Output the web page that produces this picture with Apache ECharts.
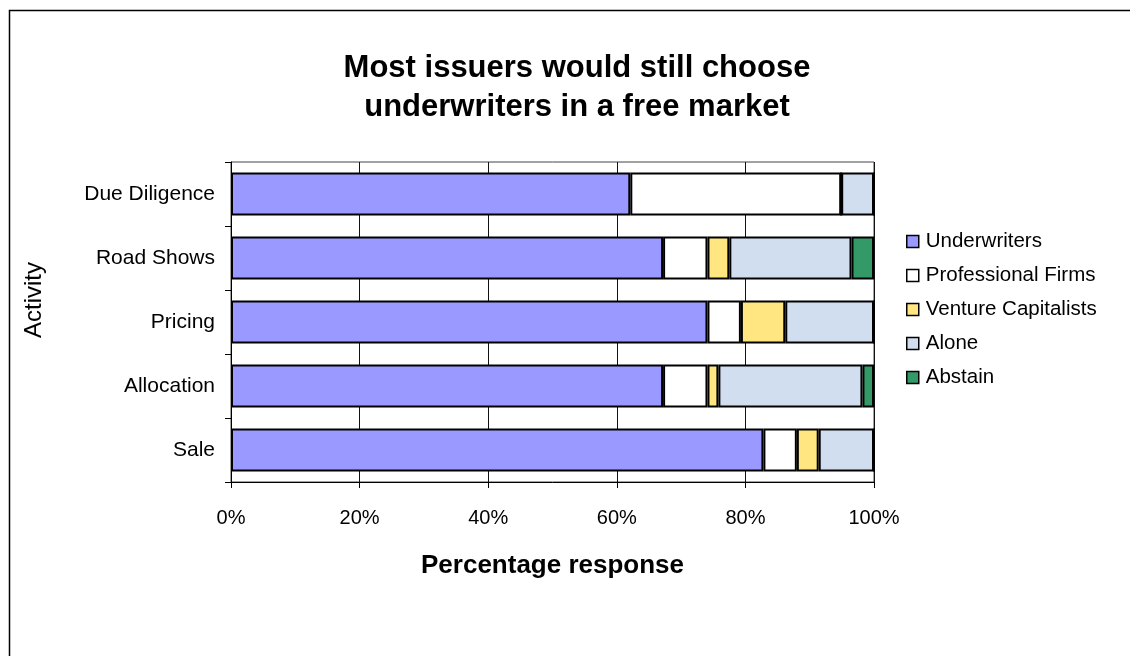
<!DOCTYPE html>
<html>
<head>
<meta charset="utf-8">
<script src="https://cdn.jsdelivr.net/npm/echarts@6/dist/echarts.min.js"></script>
<style>html,body{margin:0;padding:0;background:#fff}#c{width:1130px;height:656px}</style>
</head>
<body>
<div id="c"></div>
<script>
const categories = ['Sale', 'Allocation', 'Pricing', 'Road Shows', 'Due Diligence'];
const underwriters = [82.8, 67.2, 74.1, 67.2, 62.1];
const professionalFirms = [5.2, 6.9, 5.2, 6.9, 32.8];
const ventureCapitalists = [3.4, 1.7, 6.9, 3.4, 0];
const alone = [8.6, 22.4, 13.8, 19.0, 5.1];
const abstain = [0, 1.8, 0, 3.5, 0];
const xTicks = [0, 20, 40, 60, 80, 100];

const font = '"Liberation Sans", Arial, sans-serif';
const seriesDefs = [
  ['Underwriters', underwriters, '#9999FF'],
  ['Professional Firms', professionalFirms, '#FFFFFF'],
  ['Venture Capitalists', ventureCapitalists, '#FFE680'],
  ['Alone', alone, '#D0DEF0'],
  ['Abstain', abstain, '#339966']
];

const chart = echarts.init(document.getElementById('c'), null, {renderer: 'canvas'});
chart.setOption({
  animation: false,
  backgroundColor: '#fff',
  textStyle: {fontFamily: font},
  graphic: [{
    type: 'rect', silent: true, z: -10,
    shape: {x: 9.5, y: 10.5, width: 1200, height: 700},
    style: {fill: 'none', stroke: '#000', lineWidth: 1.5}
  }],
  title: {
    text: 'Most issuers would still choose\nunderwriters in a free market',
    left: 572, top: 44, textAlign: 'center',
    textStyle: {fontFamily: font, fontSize: 31, fontWeight: 'bold', color: '#000', lineHeight: 39}
  },
  legend: {
    orient: 'vertical', left: 901, top: 226,
    itemWidth: 12, itemHeight: 12, itemGap: 13,
    icon: 'rect',
    textStyle: {fontFamily: font, fontSize: 20.5, color: '#000', padding: [0, 0, 0, 2]},
    itemStyle: {borderColor: '#000', borderWidth: 1.5},
    data: seriesDefs.map(d => d[0])
  },
  grid: {
    left: 231, top: 162, width: 643, height: 320,
    show: true, borderColor: '#444', borderWidth: 1, backgroundColor: 'transparent'
  },
  xAxis: {
    type: 'value', min: 0, max: 100, interval: 20,
    name: 'Percentage response', nameLocation: 'middle', nameGap: 71,
    nameTextStyle: {fontFamily: font, fontSize: 26, fontWeight: 'bold', color: '#000'},
    axisLine: {show: true, lineStyle: {color: '#000', width: 1}},
    axisTick: {show: true, length: 6, lineStyle: {color: '#000'}},
    axisLabel: {fontFamily: font, fontSize: 20, color: '#000', margin: 26,
      formatter: v => xTicks.includes(v) ? v + '%' : ''},
    splitLine: {show: true, lineStyle: {color: '#111', width: 1}}
  },
  yAxis: {
    type: 'category', data: categories,
    name: 'Activity', nameLocation: 'middle', nameGap: 185, nameRotate: 90,
    nameTextStyle: {fontFamily: font, fontSize: 24, color: '#000', padding: [0, 0, 0, 44]},
    axisLine: {show: true, lineStyle: {color: '#000', width: 1}},
    axisTick: {show: true, length: 6, lineStyle: {color: '#000'}},
    axisLabel: {fontFamily: font, fontSize: 21, color: '#000', margin: 16}
  },
  series: seriesDefs.map(d => ({
    name: d[0], type: 'bar', stack: 'total', data: d[1],
    barCategoryGap: '33%',
    itemStyle: {color: d[2], borderColor: '#000', borderWidth: 2}
  }))
});
</script>
</body>
</html>
